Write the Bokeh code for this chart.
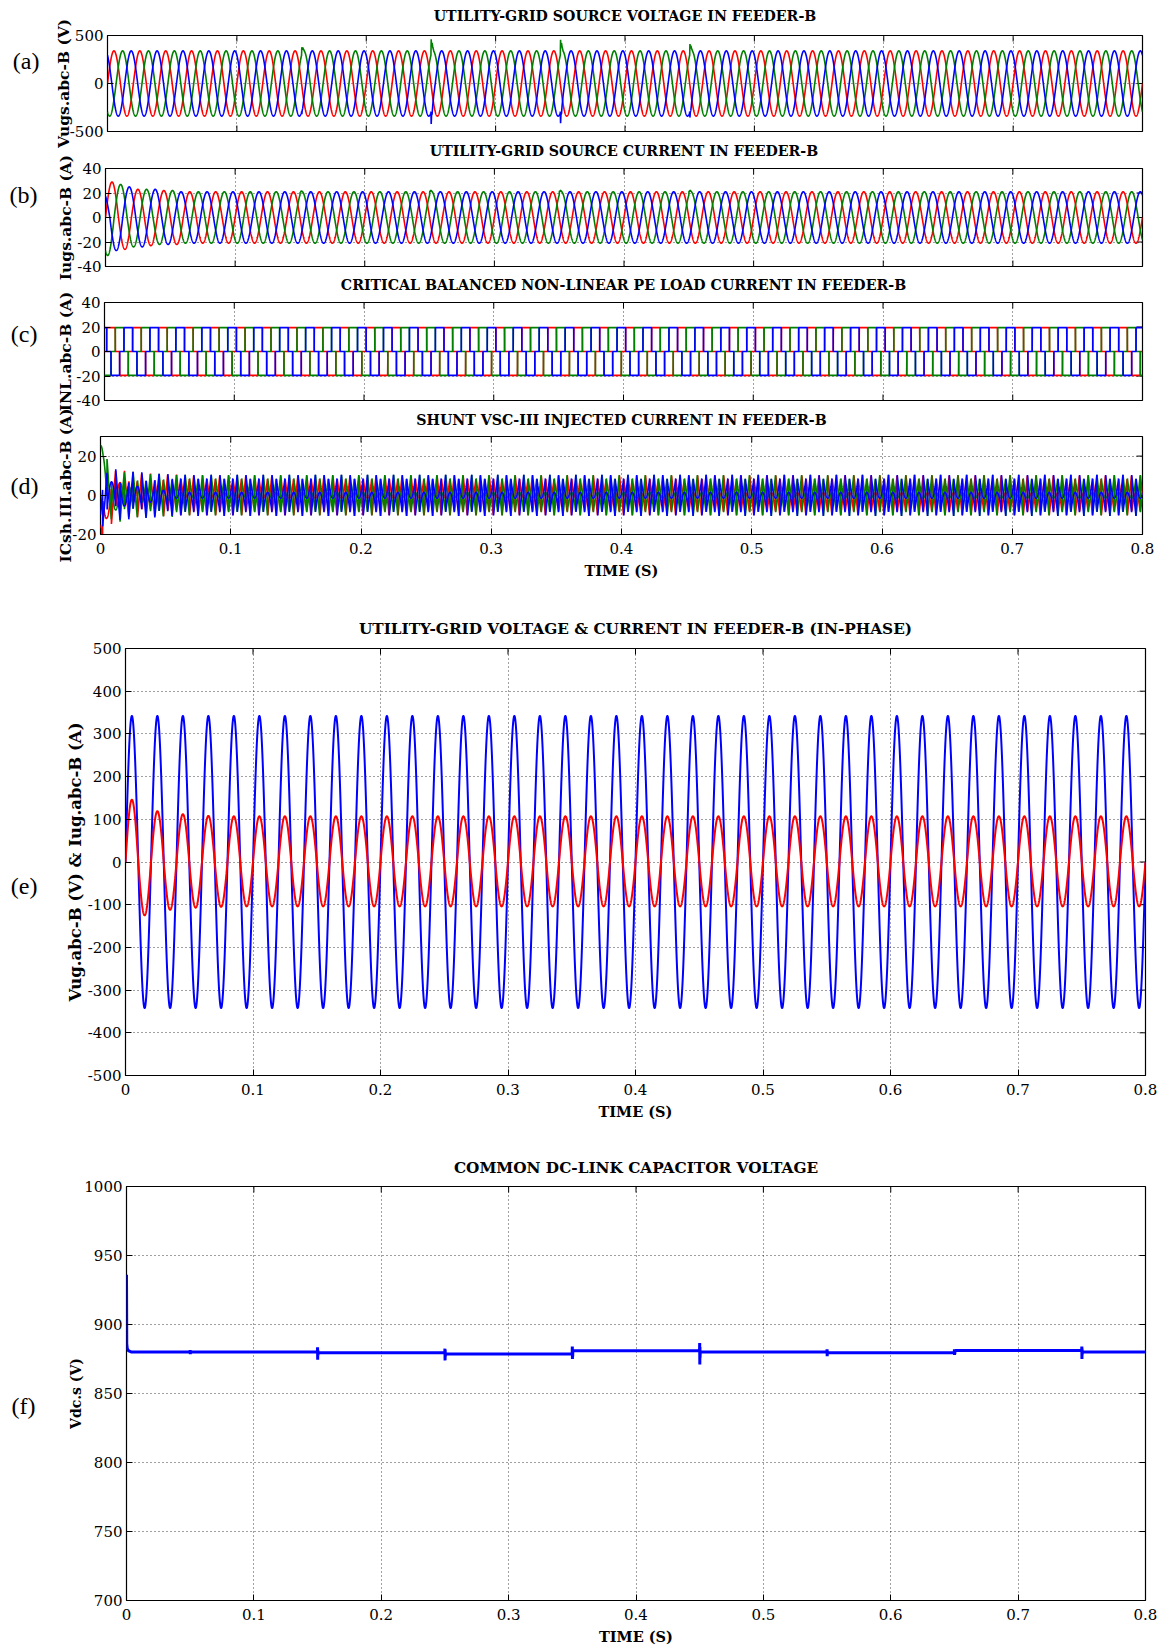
import numpy as np
from bokeh.plotting import figure
from bokeh.models import Range1d, LinearAxis, FixedTicker
from bokeh.embed import file_html
from bokeh.resources import INLINE

# ===================== values =====================
FREQ_HZ = 50.0                 # 40 cycles in 0.8 s (panel e)
T_END = 0.8
N_SAMPLES = 8001

x_ticks = [0.0, 0.1, 0.2, 0.3, 0.4, 0.5, 0.6, 0.7, 0.8]
x_tick_labels = ["0", "0.1", "0.2", "0.3", "0.4", "0.5", "0.6", "0.7", "0.8"]

phase_red_deg = 0.0
phase_green_deg = -120.0
phase_blue_deg = 120.0

# (a) utility-grid source voltage
vs_peak = 340.0
event_times = [0.15, 0.25, 0.35, 0.45]
vs_green_at_event = [368.0, 450.0, 445.0, 400.0]
vs_blue_at_event = [-330.0, -432.0, -425.0, -365.0]
transient_dt = [0.0, 0.0002, 0.0005, 0.0009, 0.0014, 0.0022]
transient_frac = [0.0, 1.0, 0.45, 0.6, 0.25, 0.0]

# (b) utility-grid source current (half-cycle peaks from t = 0, then steady)
is_red_half_peaks = [29.0, 26.0, 23.0, 23.0, 22.0, 22.0]
is_green_half_peaks = [31.0, 27.0, 24.0, 23.0, 22.0, 22.0]
is_blue_half_peaks = [20.0, 27.0, 25.0, 24.0, 23.0, 22.0]
is_steady_peak = 21.0
is_green_event_bump = [2.0, 3.0, 3.0, 3.0]

# (c) non-linear load current (six-pulse quasi-square wave)
il_flat = 19.5
il_cycle_deg = [0, 30, 31, 149, 150, 210, 211, 329, 330, 360]
il_cycle_unit = [0, 0, 1, 1, 0, 0, -1, -1, 0, 0]

# (d) shunt injected current: start-up offsets
ish_start_dt = [0.0, 0.002, 0.005, 0.01]
ish_start_red = [-15.0, -6.0, -2.0, 0.0]
ish_start_green = [18.0, 9.0, 3.0, 0.0]
ish_start_blue = [-12.0, -5.0, -2.0, 0.0]

# (e) grid voltage and (scaled) grid current, in phase
ve_peak = 342.0
ie_half_peaks = [146.0, 125.0, 119.0, 112.0, 112.0, 107.0, 108.0, 105.0]
ie_steady_pos = 107.0
ie_steady_neg = 104.0

# (f) common DC-link capacitor voltage
vdc_seg_start = [0.0, 0.15, 0.25, 0.35, 0.45, 0.55, 0.65, 0.75]
vdc_seg_level = [880.0, 879.6, 878.7, 881.0, 880.0, 879.5, 881.2, 880.0]
vdc_event_t = [0.05, 0.15, 0.25, 0.35, 0.45, 0.55, 0.65, 0.75]
vdc_event_hi = [881.5, 883.5, 882.5, 884.0, 886.5, 882.0, 882.0, 884.0]
vdc_event_lo = [878.5, 874.5, 874.0, 875.0, 871.0, 877.0, 878.0, 875.0]
vdc_start_dt = [0.0, 0.0002, 0.0006, 0.0015, 0.004]
vdc_start_v = [936.0, 886.0, 882.5, 881.0, 880.0]

# ===================== build the traces =====================
t = np.linspace(0.0, T_END, N_SAMPLES)
dt = t[1] - t[0]
omega = 2 * np.pi * FREQ_HZ


def sine_wave(phase_deg, half_peaks, pos_peak, neg_peak):
    ph = np.radians(phase_deg)
    ang = omega * t + ph
    k = (np.floor(ang / np.pi) - np.floor(ph / np.pi)).astype(int)
    s = np.sin(ang)
    amp = np.where(s >= 0, pos_peak, neg_peak)
    for i, hp in enumerate(half_peaks):
        amp = np.where(k == i, hp, amp)
    return amp * s


def add_transients(wave, times, deltas):
    out = wave.copy()
    for te, d in zip(times, deltas):
        out = out + d * np.interp(t - te, transient_dt, transient_frac, left=0.0, right=0.0)
    return out


def quasi_square(phase_deg, level):
    ang = np.mod(np.degrees(omega * t) + phase_deg, 360.0)
    return level * np.interp(ang, il_cycle_deg, il_cycle_unit)


va_r = sine_wave(phase_red_deg, [], vs_peak, vs_peak)
va_g0 = sine_wave(phase_green_deg, [], vs_peak, vs_peak)
va_b0 = sine_wave(phase_blue_deg, [], vs_peak, vs_peak)
va_g = add_transients(va_g0, event_times,
                      [v - np.interp(te, t, va_g0) for te, v in zip(event_times, vs_green_at_event)])
va_b = add_transients(va_b0, event_times,
                      [v - np.interp(te, t, va_b0) for te, v in zip(event_times, vs_blue_at_event)])

ib_r = sine_wave(phase_red_deg, is_red_half_peaks, is_steady_peak, is_steady_peak)
ib_g = add_transients(sine_wave(phase_green_deg, is_green_half_peaks, is_steady_peak, is_steady_peak),
                      event_times, is_green_event_bump)
ib_b = sine_wave(phase_blue_deg, is_blue_half_peaks, is_steady_peak, is_steady_peak)

ic_r = quasi_square(phase_red_deg, il_flat)
ic_g = quasi_square(phase_green_deg, il_flat)
ic_b = quasi_square(phase_blue_deg, il_flat)

id_r = ic_r - ib_r + np.interp(t, ish_start_dt, ish_start_red)
id_g = ic_g - ib_g + np.interp(t, ish_start_dt, ish_start_green)
id_b = ic_b - ib_b + np.interp(t, ish_start_dt, ish_start_blue)

ve = sine_wave(0.0, [], ve_peak, ve_peak)
ie = sine_wave(0.0, ie_half_peaks, ie_steady_pos, ie_steady_neg)

seg_idx = np.searchsorted(vdc_seg_start, t, side="right") - 1
vdc = np.array(vdc_seg_level)[seg_idx]
m = t < vdc_start_dt[-1]
vdc[m] = np.interp(t[m], vdc_start_dt, vdc_start_v)
for te, hi, lo in zip(vdc_event_t, vdc_event_hi, vdc_event_lo):
    i = int(round(te / dt))
    base = vdc[i - 1]
    vdc[i] = hi
    vdc[i + 1] = lo
    vdc[i + 2] = 0.5 * (hi + base)
    vdc[i + 3] = 0.5 * (lo + base)

# ===================== layout / styling =====================
RED, GREEN, BLUE = "#ff0000", "#008000", "#0000ff"
SERIF = "DejaVu Serif"
PAGE_W = 1164
TICK_PX = 6


def make_panel(spec):
    fig_top, fig_bot = spec["fig_y"]
    fl, fr, ft, fb = spec["frame"]
    ylo, yhi = spec["yr"]
    p = figure(width=PAGE_W, height=fig_bot - fig_top,
               x_range=Range1d(0.0, 0.8), y_range=Range1d(ylo, yhi),
               output_backend="svg", toolbar_location=None,
               min_border_left=fl, min_border_right=PAGE_W - fr,
               min_border_top=ft - fig_top, min_border_bottom=fig_bot - fb)
    # panels are stacked at fixed page positions; their margins are transparent
    # so that long axis labels may reach into the neighbouring panel
    p.styles = {"position": "absolute", "left": "0px", "top": "%dpx" % fig_top}
    p.background_fill_color = "white"
    p.border_fill_color = None
    p.outline_line_color = "#000000"
    p.outline_line_width = 1.2

    p.title.text = spec["title"]
    p.title.align = "center"
    p.title.text_font = SERIF
    p.title.text_font_style = "bold"
    p.title.text_font_size = spec["title_size"]
    p.title.text_color = "#000000"
    p.title.standoff = spec["title_standoff"]

    yt = spec["yticks"]
    xax = p.below[0]
    yax = p.left[0]
    for ax, ticks, labels in ((xax, x_ticks, x_tick_labels),
                              (yax, yt, [str(int(v)) for v in yt])):
        ax.ticker = FixedTicker(ticks=ticks)
        ax.major_label_overrides = {tk: lb for tk, lb in zip(ticks, labels)}
        ax.axis_line_color = None
        ax.major_tick_in = TICK_PX
        ax.major_tick_out = 0
        ax.major_tick_line_color = "#000000"
        ax.minor_tick_line_color = None
        ax.major_label_text_font = SERIF
        ax.major_label_text_font_size = "15px"
        ax.major_label_text_color = "#000000"
    yax.major_label_standoff = 4
    yax.axis_label = spec["ylabel"]
    yax.axis_label_standoff = spec["ylabel_standoff"]
    yax.axis_label_text_font = SERIF
    yax.axis_label_text_font_style = "bold"
    yax.axis_label_text_font_size = spec["ylabel_size"]
    yax.axis_label_text_color = "#000000"
    if spec["xlabels"]:
        xax.major_label_standoff = 8
        xax.axis_label = "TIME (S)"
        xax.axis_label_standoff = 5
        xax.axis_label_text_font = SERIF
        xax.axis_label_text_font_style = "bold"
        xax.axis_label_text_font_size = "14.5px"
        xax.axis_label_text_color = "#000000"
    else:
        xax.visible = False

    # panel letter as the single label of an outer left axis
    fh = fb - ft
    ly = round(yhi - (spec["letter_y"] - ft) / fh * (yhi - ylo), 4)
    lax = LinearAxis(ticker=FixedTicker(ticks=[ly]), major_label_overrides={ly: spec["letter"]},
                     axis_line_color=None, major_tick_line_color=None,
                     minor_tick_line_color=None, major_label_standoff=spec["letter_standoff"],
                     major_label_text_font="Liberation Serif", major_label_text_font_size="24px",
                     major_label_text_color="#000000")
    p.add_layout(lax, "left")

    p.xgrid.ticker = FixedTicker(ticks=x_ticks)
    p.ygrid.ticker = FixedTicker(ticks=yt)
    for g in (p.xgrid, p.ygrid):
        g.grid_line_color = "#000000"
        g.grid_line_alpha = 0.75
        g.grid_line_dash = "1 3"
        g.grid_line_width = 1

    # inward tick marks on the top, right (and bottom when unlabeled) edges
    tdy = TICK_PX * (yhi - ylo) / fh
    tdx = TICK_PX * 0.8 / (fr - fl)
    n = len(x_ticks)
    p.segment(x0=x_ticks, y0=[yhi] * n, x1=x_ticks, y1=[yhi - tdy] * n, line_color="#000000")
    p.segment(x0=[0.8] * len(yt), y0=yt, x1=[0.8 - tdx] * len(yt), y1=yt, line_color="#000000")
    if not spec["xlabels"]:
        p.segment(x0=x_ticks, y0=[ylo] * n, x1=x_ticks, y1=[ylo + tdy] * n, line_color="#000000")
    return p


specs = [
    dict(fig_y=(-12, 160), frame=(107, 1142, 35, 131), yr=(-500, 500), yticks=[-500, 0, 500],
         title="UTILITY-GRID SOURCE VOLTAGE IN FEEDER-B", title_standoff=24, title_size="14.2px",
         ylabel="Vugs.abc-B (V)", ylabel_standoff=-6, ylabel_size="15.5px",
         letter="(a)", letter_y=60, letter_standoff=5, xlabels=False),
    dict(fig_y=(125, 300), frame=(105, 1142, 168, 266), yr=(-40, 40), yticks=[-40, -20, 0, 20, 40],
         title="UTILITY-GRID SOURCE CURRENT IN FEEDER-B", title_standoff=20, title_size="14.2px",
         ylabel="Iugs.abc-B (A)", ylabel_standoff=-1, ylabel_size="15.5px",
         letter="(b)", letter_y=195, letter_standoff=10, xlabels=False),
    dict(fig_y=(258, 425), frame=(104, 1142, 302, 400), yr=(-40, 40), yticks=[-40, -20, 0, 20, 40],
         title="CRITICAL BALANCED NON-LINEAR PE LOAD CURRENT IN FEEDER-B", title_standoff=19,
         title_size="14.2px",
         ylabel="INL.abc-B (A)", ylabel_standoff=-2, ylabel_size="15.5px",
         letter="(c)", letter_y=334, letter_standoff=10, xlabels=False),
    dict(fig_y=(392, 590), frame=(100, 1142, 436, 534), yr=(-20, 30), yticks=[-20, 0, 20],
         title="SHUNT VSC-III INJECTED CURRENT IN FEEDER-B", title_standoff=17, title_size="14.2px",
         ylabel="ICsh.III.abc-B (A)", ylabel_standoff=-6, ylabel_size="15.5px",
         letter="(d)", letter_y=485, letter_standoff=9, xlabels=True),
    dict(fig_y=(585, 1125), frame=(125, 1145, 648, 1075), yr=(-500, 500),
         yticks=[-500, -400, -300, -200, -100, 0, 100, 200, 300, 400, 500],
         title="UTILITY-GRID VOLTAGE & CURRENT IN FEEDER-B (IN-PHASE)", title_standoff=22,
         title_size="15.3px",
         ylabel="Vug.abc-B (V) & Iug.abc-B (A)", ylabel_standoff=0, ylabel_size="16.5px",
         letter="(e)", letter_y=886, letter_standoff=19, xlabels=True),
    dict(fig_y=(1123, 1648), frame=(126, 1145, 1186, 1600), yr=(700, 1000),
         yticks=[700, 750, 800, 850, 900, 950, 1000],
         title="COMMON DC-LINK CAPACITOR VOLTAGE", title_standoff=20, title_size="15.3px",
         ylabel="Vdc.s (V)", ylabel_standoff=-3, ylabel_size="14px",
         letter="(f)", letter_y=1405, letter_standoff=24, xlabels=True),
]

figs = [make_panel(s) for s in specs]
pa, pb, pc, pd, pe, pf = figs

LW = 1.6
for p, (r, g, b) in ((pa, (va_r, va_g, va_b)), (pb, (ib_r, ib_g, ib_b)),
                     (pc, (ic_r, ic_g, ic_b)), (pd, (id_r, id_g, id_b))):
    p.line(t, r, line_color=RED, line_width=LW)
    p.line(t, g, line_color=GREEN, line_width=LW)
    p.line(t, b, line_color=BLUE, line_width=LW)

pe.line(t, ve, line_color=BLUE, line_width=2.0)
pe.line(t, ie, line_color=RED, line_width=2.0)
pf.line(t, vdc, line_color=BLUE, line_width=3.0)

open("out.html", "w").write(file_html(figs, INLINE))
